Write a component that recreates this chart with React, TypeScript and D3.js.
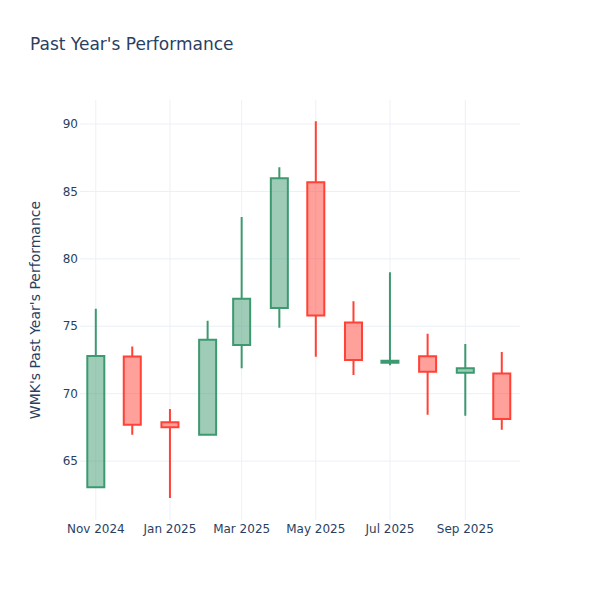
import React from "react";
import * as d3 from "d3";

// Monthly candles
const dates = [
    "2024-11-01", "2024-12-01", "2025-01-01", "2025-02-01", "2025-03-01", "2025-04-01",
    "2025-05-01", "2025-06-01", "2025-07-01", "2025-08-01", "2025-09-01", "2025-10-01",
];
const opens = [63.05, 72.75, 67.88, 66.95, 73.6, 76.35, 85.68, 75.28, 72.3, 72.77, 71.56, 71.5];
const highs = [76.3, 73.5, 68.86, 75.4, 83.1, 86.8, 90.2, 76.86, 79.0, 74.44, 73.68, 73.09];
const lows = [63.0, 66.96, 62.27, 66.9, 71.88, 74.89, 72.74, 71.38, 72.1, 68.44, 68.37, 67.33];
const closes = [72.8, 67.7, 67.5, 74.0, 77.04, 85.98, 75.8, 72.49, 72.45, 71.63, 71.88, 68.12];

const yTicks = [65, 70, 75, 80, 85, 90];
const xTickDates = ["2024-11-01", "2025-01-01", "2025-03-01", "2025-05-01", "2025-07-01", "2025-09-01"];

const title = "Past Year's Performance";
const yTitle = "WMK's Past Year's Performance";

const W = 600;
const H = 600;
const margin = { top: 100, right: 80, bottom: 80, left: 80 };
const FONT = "'DejaVu Sans', 'Open Sans', verdana, arial, sans-serif";
const TEXT = "#2a3f5f";
const GRID = "#EBF0F8";
const UP = "#3D9970";
const DOWN = "#FF4136";

const parse = d3.utcParse("%Y-%m-%d");
const fmt = d3.utcFormat("%b %Y");
const DAY = 86400000;

export default function App() {
    const x = d3.scaleUtc()
        .domain([parse("2024-10-19")!, parse("2025-10-16")!])
        .range([margin.left, W - margin.right]);
    const y = d3.scaleLinear()
        .domain([60.63, 91.78])
        .range([H - margin.bottom, margin.top]);

    const candles = dates.map((d, i) => ({
        date: parse(d)!,
        open: opens[i], high: highs[i], low: lows[i], close: closes[i],
    }));

    return (
        <svg width={W} height={H} style={{ position: "absolute", left: 0, top: 0, background: "white" }}>
            {/* grid */}
            <g>
                {xTickDates.map(d => (
                    <line key={d} x1={x(parse(d)!)} x2={x(parse(d)!)} y1={margin.top} y2={H - margin.bottom}
                        stroke={GRID} strokeWidth={1} />
                ))}
                {yTicks.map(t => (
                    <line key={t} x1={margin.left} x2={W - margin.right} y1={y(t)} y2={y(t)}
                        stroke={GRID} strokeWidth={1} />
                ))}
            </g>

            {/* candles */}
            <g>
                {candles.map((c, i) => {
                    const up = c.close >= c.open;
                    const color = up ? UP : DOWN;
                    const fill = up ? "rgba(61,153,112,0.5)" : "rgba(255,65,54,0.5)";
                    const x0 = x(new Date(c.date.getTime() - 7 * DAY));
                    const x1 = x(new Date(c.date.getTime() + 7 * DAY));
                    const xc = x(c.date);
                    const top = y(Math.max(c.open, c.close));
                    const bot = y(Math.min(c.open, c.close));
                    const d = `M${x0},${y(c.open)}H${x1}V${y(c.close)}H${x0}Z` +
                        `M${xc},${top}V${y(c.high)}M${xc},${bot}V${y(c.low)}`;
                    return <path key={i} d={d} fill={fill} stroke={color} strokeWidth={2} />;
                })}
            </g>

            {/* y tick labels */}
            <g fontFamily={FONT} fontSize={12} fill={TEXT}>
                {yTicks.map(t => (
                    <text key={t} x={margin.left - 2} y={y(t)} dy="0.35em" textAnchor="end">{t}</text>
                ))}
            </g>

            {/* x tick labels */}
            <g fontFamily={FONT} fontSize={12} fill={TEXT}>
                {xTickDates.map(d => (
                    <text key={d} x={x(parse(d)!)} y={H - margin.bottom + 13} textAnchor="middle">{fmt(parse(d)!)}</text>
                ))}
            </g>

            {/* titles */}
            <text x={30} y={50} fontFamily={FONT} fontSize={17} fill={TEXT}>{title}</text>
            <text transform={`translate(40,${(margin.top + H - margin.bottom) / 2}) rotate(-90)`}
                textAnchor="middle" fontFamily={FONT} fontSize={14} fill={TEXT}>{yTitle}</text>
        </svg>
    );
}
